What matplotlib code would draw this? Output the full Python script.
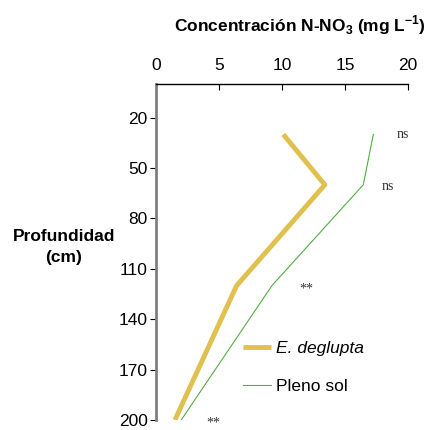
import matplotlib.pyplot as plt

plt.rcParams['font.family'] = ['Liberation Sans', 'DejaVu Sans']
plt.rcParams['mathtext.fontset'] = 'custom'
plt.rcParams['mathtext.rm'] = 'Liberation Sans'
plt.rcParams['mathtext.bf'] = 'Liberation Sans:bold'

# depth (cm) and N-NO3 concentration (mg/L)
depth = [30, 60, 120, 200]
deglupta = [10.1, 13.4, 6.4, 1.5]
pleno_sol = [17.25, 16.45, 9.2, 2.0]

y_ticks = [20, 50, 80, 110, 140, 170, 200]
x_ticks = [0, 5, 10, 15, 20]

# significance marks: (label, x, depth)
marks = [('ns', 19.1, 30), ('ns', 17.9, 61), ('**', 11.4, 122), ('**', 4.0, 202)]

fig = plt.figure(figsize=(4.35, 4.30), dpi=100)
ax = fig.add_axes([156 / 435, 1 - 420 / 430, 252 / 435, (420 - 84) / 430])

ax.plot(deglupta, depth, color='#e0c04e', lw=3.5, label='E. deglupta', solid_capstyle='butt')
ax.plot(pleno_sol, depth, color='#4fb03f', lw=0.8, label='Pleno sol')

ax.set_xlim(0, 20)
ax.set_ylim(200, 0)
ax.set_xticks(x_ticks)
ax.set_yticks(y_ticks)
ax.xaxis.tick_top()
ax.tick_params(axis='x', direction='in', length=4, width=0.8, labelsize=12.5, pad=8)
ax.tick_params(axis='y', direction='out', length=4, width=0.8, labelsize=12.5, pad=2)

ax.spines['right'].set_visible(False)
ax.spines['bottom'].set_visible(False)
ax.spines['left'].set_color('#808080')
ax.spines['left'].set_linewidth(2)
ax.spines['top'].set_linewidth(1)

for label, x, y in marks:
    ax.text(x, y, label, family='Liberation Serif', fontsize=10, ha='left', va='center', color='#333333')

fig.text(300 / 435, 1 - 25 / 430, r'Concentración N-NO$_{\mathbf{3}}$ (mg L$^{\mathbf{-1}}$)',
         ha='center', va='center', fontsize=12.5, fontweight='bold')
fig.text(64 / 435, 1 - 247 / 430, 'Profundidad\n(cm)', ha='center', va='center',
         fontsize=12.5, fontweight='bold', linespacing=1.45)

leg = ax.legend(loc='lower left', bbox_to_anchor=(0.285, 0.03), frameon=False, fontsize=12.5,
                handlelength=1.6, labelspacing=1.35, handletextpad=0.3)
leg.get_texts()[0].set_style('italic')

fig.savefig('out.png', dpi=100)
